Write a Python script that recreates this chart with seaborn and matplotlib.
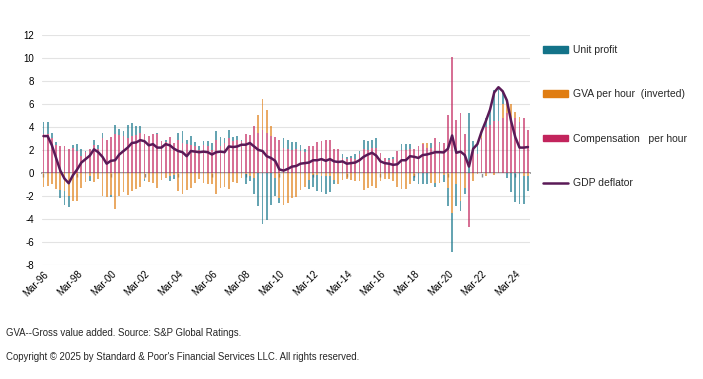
import numpy as np
import matplotlib
matplotlib.use("Agg")
import matplotlib.pyplot as plt
import seaborn as sns
from matplotlib.patches import Patch
from matplotlib.lines import Line2D

# -----------------------------
# Data: quarterly, Mar-96 .. Dec-24 (% y/y contributions)
# -----------------------------

quarters = [f"{m}-{y % 100:02d}" for y in range(1996, 2025) for m in ["Mar", "Jun", "Sep", "Dec"]]

comp_per_hour = [
    3.4, 3.4, 3.0, 2.4, 2.35, 2.35, 2.1, 2.2, 1.9, 1.5,
    1.8, 2.1, 2.4, 2.1, 3.0, 2.9, 3.1, 3.4, 3.3, 3.2,
    3.0, 3.2, 3.3, 3.5, 3.4, 3.2, 3.4, 3.4, 2.8, 2.7,
    3.1, 2.6, 2.9, 2.6, 2.5, 2.4, 2.3, 2.0, 2.4, 2.3,
    2.0, 2.9, 2.3, 2.6, 3.0, 2.8, 2.9, 2.8, 3.4, 3.3,
    4.1, 3.5, 3.7, 3.5, 3.2, 3.1, 2.9, 2.2, 2.1, 2.0,
    2.1, 1.9, 1.8, 2.3, 2.3, 2.7, 2.8, 2.9, 2.9, 2.05,
    2.05, 1.3, 1.2, 1.3, 1.2, 1.6, 2.1, 2.0, 2.2, 2.2,
    1.7, 1.3, 1.1, 1.2, 1.9, 2.0, 2.0, 2.1, 2.1, 2.3,
    2.5, 2.2, 2.2, 3.0, 2.6, 2.6, 5.0, 10.1, 4.6, 5.2,
    3.4, -4.7, 2.2, 1.6, 3.0, 4.0, 4.2, 4.5, 4.5, 4.8,
    5.2, 4.8, 4.8, 4.4, 4.8, 3.7,
]

gva_per_hour_inv = [
    -1.2, -1.15, -1.0, -1.4, -1.5, -1.6, -2.0, -2.4, -2.4, -1.3,
    -0.8, -0.3, -0.8, -0.5, -2.0, -2.1, -1.9, -3.1, -2.0, -1.7,
    -1.9, -1.6, -1.4, -1.2, -0.5, -0.8, -0.9, -1.3, -0.6, -0.4,
    -0.3, -0.2, -1.6, -1.8, -1.5, -1.3, -0.9, -0.5, -0.9, -1.0,
    -1.0, -1.8, -1.3, -1.2, -1.4, -0.8, -0.9, -0.4, -0.1, -0.3,
    -0.4, 1.5, 2.7, 2.0, 0.9, -0.4, -2.2, -2.8, -2.6, -2.2,
    -2.1, -1.5, -1.2, -0.6, -0.2, -0.2, -0.3, -0.3, -0.3, -0.6,
    -1.0, -0.6, -0.5, -0.6, -0.7, -0.7, -1.5, -1.3, -1.1, -1.3,
    -0.7, -0.5, -0.5, -0.7, -1.2, -1.4, -1.4, -1.0, -0.3, 0.0,
    0.1, 0.4, -0.9, -0.9, -0.9, -0.2, -1.3, -3.5, -1.0, -2.4,
    -1.3, 0.0, -0.7, -0.1, 0.3, -0.3, 0.0, -0.2, 0.0, 1.2,
    0.9, 1.2, 0.5, 0.5, -0.3, -0.3,
]

unit_profit = [
    1.0, 1.0, 0.45, 0.3, -0.7, -1.2, -1.0, 0.2, 0.6, 0.6,
    0.1, -0.4, 0.5, 0.3, 0.5, 0.0, -0.2, 0.8, 0.5, 0.4,
    1.2, 1.1, 0.8, 0.6, -0.2, 0.0, 0.0, 0.1, 0.0, 0.2,
    -0.4, -0.3, 0.6, 1.0, 0.4, 0.8, 0.4, 0.3, 0.4, 0.5,
    0.6, 0.7, 0.8, 0.4, 0.7, 0.3, 0.3, 0.1, -0.9, -0.4,
    -1.4, -2.9, -4.4, -4.1, -2.8, -1.6, -0.4, 0.8, 0.8, 0.7,
    0.6, 0.5, 0.3, -0.8, -1.0, -1.4, -1.4, -1.5, -1.4, -0.4,
    0.0, 0.3, 0.2, 0.2, 0.4, 0.3, 0.8, 0.8, 0.7, 0.8,
    0.0, 0.0, 0.2, 0.2, 0.0, 0.5, 0.5, 0.4, -0.4, -1.0,
    -1.0, -1.0, 0.4, -0.3, 0.1, -0.6, -1.6, -3.35, -1.85, -0.95,
    -0.55, 5.25, 0.6, 1.0, 0.3, 0.8, 1.3, 2.7, 3.0, 1.1,
    -0.4, -1.7, -2.5, -2.7, -2.4, -1.3,
]

gdp_deflator = [
    3.2, 3.2, 2.4, 1.3, 0.2, -0.5, -0.9, -0.2, 0.3, 0.9,
    1.2, 1.5, 2.05, 1.8, 1.4, 0.8, 1.05, 1.1, 1.6, 1.9,
    2.2, 2.6, 2.65, 2.85, 2.75, 2.4, 2.5, 2.2, 2.2, 2.5,
    2.4, 2.1, 1.9, 1.8, 1.45, 1.9, 1.85, 1.8, 1.85, 1.8,
    1.6, 1.8, 1.85, 1.8, 2.3, 2.25, 2.3, 2.45, 2.45, 2.6,
    2.3, 2.0, 1.9, 1.45, 1.3, 1.05, 0.3, 0.2, 0.35, 0.55,
    0.6, 0.8, 0.85, 0.9, 1.1, 1.1, 1.2, 1.05, 1.2, 1.0,
    0.95, 1.0, 0.8, 0.85, 0.9, 1.1, 1.4, 1.6, 1.75, 1.5,
    1.0, 0.85, 0.8, 0.7, 0.75, 1.1, 1.1, 1.45, 1.4, 1.3,
    1.55, 1.6, 1.7, 1.8, 1.8, 1.78, 2.1, 3.25, 1.75, 1.85,
    1.55, 0.55, 2.1, 2.5, 3.6, 4.5, 5.5, 7.0, 7.45, 7.1,
    6.3, 4.5, 3.1, 2.2, 2.2, 2.25,
]

series_colors = ["#c2245c", "#e07d12", "#137389"]  # compensation, GVA, unit profit
deflator_color = "#5a1a57"

# -----------------------------
# Plot
# -----------------------------

sns.set_theme(style="white")
plt.rcParams["font.family"] = ["Liberation Sans", "DejaVu Sans"]
plt.rcParams["axes.unicode_minus"] = False

fig = plt.figure(figsize=(7.03, 3.79), dpi=100)
ax = fig.add_axes([0.06, 0.301, 0.694, 0.607])

x = np.arange(len(quarters))
vals = np.array([comp_per_hour, gva_per_hour_inv, unit_profit])
pos_base = np.zeros(len(quarters))
neg_base = np.zeros(len(quarters))
for v, col in zip(vals, series_colors):
    bottom = np.where(v >= 0, pos_base, neg_base)
    ax.bar(x, v, bottom=bottom, width=0.42, color=col, linewidth=0, alpha=0.65)
    pos_base += np.clip(v, 0, None)
    neg_base += np.clip(v, None, 0)

sns.lineplot(x=x, y=gdp_deflator, ax=ax, color=deflator_color, linewidth=1.8)

ax.set_ylim(-8, 12)
ax.set_xlim(-0.3, len(quarters) - 0.5)
ax.set_yticks(range(-8, 13, 2))
ax.yaxis.grid(True, color="#e3e3e3", linewidth=0.8)
ax.set_axisbelow(True)
for s in ax.spines.values():
    s.set_visible(False)

tick_pos = list(range(0, len(quarters), 8))
ax.set_xticks(tick_pos)
ax.set_xticklabels([quarters[i] for i in tick_pos], rotation=45, ha="right",
                   rotation_mode="anchor")
ax.tick_params(axis="x", length=0, pad=3, labelsize=7, colors="#000000")
ax.tick_params(axis="y", length=0, pad=6, labelsize=7, colors="#000000")

# zero line with category ticks
zero_ax = ax.secondary_xaxis(0.4)
zero_ax.set_xticks(tick_pos)
zero_ax.set_xticklabels([])
zero_ax.spines["bottom"].set_color("#8c8c8c")
zero_ax.spines["bottom"].set_linewidth(1.3)
zero_ax.tick_params(axis="x", length=3, width=1, color="#8c8c8c", direction="out")

handles = [
    Patch(color=series_colors[2]),
    Patch(color=series_colors[1]),
    Patch(color=series_colors[0]),
    Line2D([0], [0], color=deflator_color, linewidth=1.8),
]
labels = ["Unit profit", "GVA per hour  (inverted)", "Compensation   per hour", "GDP deflator"]
ax.legend(handles, labels, loc="upper left", bbox_to_anchor=(0.772, 0.881),
          bbox_transform=fig.transFigure, frameon=False, fontsize=7.5,
          handlelength=2.45, handleheight=0.6, handletextpad=0.45,
          labelspacing=3.3, borderpad=0, borderaxespad=0)

fig.text(0.008, 1 - 333 / 379, "GVA--Gross value added. Source: S&P Global Ratings.",
         fontsize=6.9, va="center", ha="left")
fig.text(0.008, 1 - 357 / 379,
         "Copyright \u00a9 2025 by Standard & Poor's Financial Services LLC. All rights reserved.",
         fontsize=6.9, va="center", ha="left")

fig.savefig("out.png", dpi=100, facecolor="white")
